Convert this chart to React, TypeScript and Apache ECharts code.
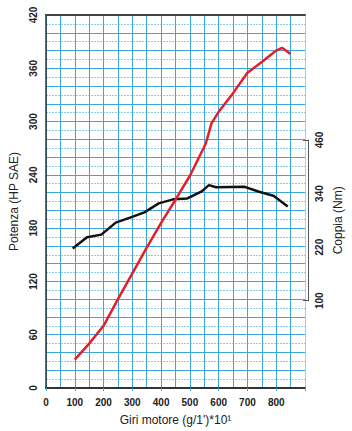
import React, { useEffect, useRef } from "react";
import * as echarts from "echarts";

const rpmPower = [100, 150, 200, 250, 300, 350, 400, 450, 500, 555, 575, 600, 650, 700, 750, 800, 820, 850];
const power = [32, 50, 70, 100, 129, 158, 186, 212, 239, 275, 298, 311, 332, 355, 367, 380, 383, 376];

const rpmTorque = [100, 150, 200, 250, 300, 350, 400, 450, 500, 550, 575, 600, 700, 750, 800, 850];
const torque = [217, 242, 248, 275, 286, 298, 318, 327, 329, 345, 359, 354, 355, 344, 335, 311];

const xLabels = [0, 100, 200, 300, 400, 500, 600, 700, 800];
const leftLabels = [0, 60, 120, 180, 240, 300, 360, 420];
const rightLabels = [100, 220, 340, 460];

const FONT = "'Liberation Sans', Arial, sans-serif";
const BLUE = "#3fa6da";
const BLUE_LIGHT = "#8ccbea";

export default function App() {
  const ref = useRef<HTMLDivElement>(null);

  useEffect(() => {
    document.body.style.margin = "0";
    const chart = echarts.init(ref.current!, null, { renderer: "svg" });
    const labelStyle = { fontFamily: FONT, fontSize: 10, fontWeight: "bold" as const, color: "#222" };
    const nameStyle = { fontFamily: FONT, fontSize: 12, color: "#222" };
    chart.setOption({
      animation: false,
      backgroundColor: "#ffffff",
      grid: [
        { left: 44, right: 47, top: 15, bottom: 41 },
        { left: 44, right: 47, top: 140, bottom: 130.3 },
      ],
      xAxis: [
        {
          gridIndex: 0,
          type: "value",
          min: 0,
          max: 900,
          interval: 100,
          position: "bottom",
          axisLine: { show: true, onZero: false, lineStyle: { color: "#333", width: 2 } },
          axisTick: { show: true, length: 3, lineStyle: { color: BLUE } },
          axisLabel: {
            ...labelStyle,
            margin: 9,
            formatter: (v: number) => (xLabels.includes(v) ? String(v) : ""),
          },
          splitLine: { show: true, lineStyle: { color: BLUE, width: 1 } },
          minorTick: { show: false, splitNumber: 2 },
          minorSplitLine: { show: true, lineStyle: { color: BLUE, width: 1 } },
          name: "Giri motore (g/1')*10¹",
          nameLocation: "middle",
          nameGap: 26,
          nameTextStyle: nameStyle,
        },
        {
          gridIndex: 0,
          type: "value",
          min: 0,
          max: 900,
          position: "top",
          axisLine: { show: true, onZero: false, lineStyle: { color: "#444", width: 2 } },
          axisTick: { show: false },
          axisLabel: { show: false },
          splitLine: { show: false },
        },
        { gridIndex: 1, type: "value", min: 0, max: 900, show: false },
      ],
      yAxis: [
        {
          gridIndex: 0,
          type: "value",
          min: 0,
          max: 420,
          interval: 20,
          position: "left",
          axisLine: { show: true, onZero: false, lineStyle: { color: "#333", width: 1.5 } },
          axisTick: { show: false },
          axisLabel: {
            ...labelStyle,
            rotate: 90,
            margin: 8,
            formatter: (v: number) => (leftLabels.includes(v) ? String(v) : ""),
          },
          splitLine: { show: true, lineStyle: { color: BLUE, width: 1 } },
          minorTick: { show: false, splitNumber: 2 },
          minorSplitLine: { show: true, lineStyle: { color: BLUE_LIGHT, width: 1, type: [2, 1] } },
          name: "Potenza (HP SAE)",
          nameLocation: "middle",
          nameRotate: 90,
          nameGap: 26,
          nameTextStyle: nameStyle,
        },
        {
          gridIndex: 0,
          type: "value",
          min: 0,
          max: 420,
          position: "right",
          axisLine: { show: true, onZero: false, lineStyle: { color: "#c9c6ae", width: 1 } },
          axisTick: { show: false },
          axisLabel: { show: false },
          splitLine: { show: false },
        },
        {
          gridIndex: 1,
          type: "value",
          min: 100,
          max: 460,
          position: "right",
          offset: 6,
          axisLine: { show: true, onZero: false, lineStyle: { color: "#555", width: 1 } },
          axisTick: { show: true, inside: true, length: 5, customValues: [100, 460], lineStyle: { color: "#555" } },
          axisLabel: { ...labelStyle, rotate: 90, margin: 6, customValues: rightLabels },
          splitLine: { show: false },
          name: "Coppia (Nm)",
          nameLocation: "middle",
          nameRotate: 90,
          nameGap: 16,
          nameTextStyle: nameStyle,
        },
      ],
      series: [
        {
          type: "line",
          name: "Coppia",
          xAxisIndex: 2,
          yAxisIndex: 2,
          data: rpmTorque.map((x, i) => [x, torque[i]]),
          symbol: "none",
          lineStyle: { color: "#111", width: 2.5 },
          z: 4,
        },
        {
          type: "line",
          name: "Potenza",
          xAxisIndex: 0,
          yAxisIndex: 0,
          data: rpmPower.map((x, i) => [x, power[i]]),
          symbol: "none",
          lineStyle: { color: "#e3202a", width: 2.5 },
          z: 5,
        },
      ],
    });
    return () => chart.dispose();
  }, []);

  return <div ref={ref} style={{ width: 352, height: 431, position: "absolute", left: 0, top: 0 }} />;
}
